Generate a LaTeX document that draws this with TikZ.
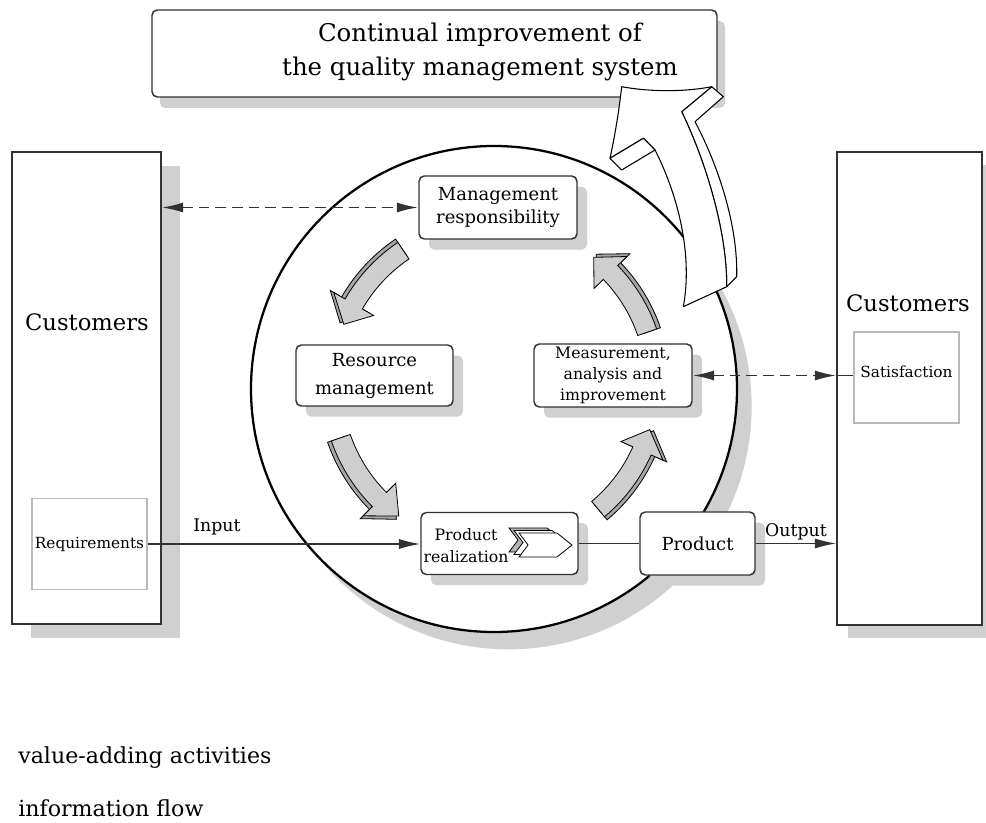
\documentclass[tikz,border=0pt]{standalone}
\usepackage{fontspec}
\setmainfont{DejaVu Serif}
\usetikzlibrary{arrows.meta,shadows,calc}
\definecolor{shd}{RGB}{207,208,207}
\definecolor{edgec}{RGB}{50,50,50}
\definecolor{lightedge}{RGB}{185,185,185}
\definecolor{arrface}{RGB}{206,206,206}
\definecolor{arrside}{RGB}{165,165,165}
\newcommand\ArcArr[4]{%
  \begin{scope}[shift={(494,385)},y=0.75pt]
    \filldraw[fill=arrside,draw=black,line width=0.6pt]
      plot[domain=#1:#2,samples=16] (\x:{#4+14}) -- (#2:{#4+27}) -- (#3:{#4+4}) -- (#2:{#4-19}) -- plot[domain=#2:#1,samples=16] (\x:{#4-6}) -- cycle;
    \filldraw[fill=arrface,draw=black,line width=0.6pt]
      plot[domain=#1:#2,samples=16] (\x:{#4+10}) -- (#2:{#4+23}) -- (#3:{#4}) -- (#2:{#4-23}) -- plot[domain=#2:#1,samples=16] (\x:{#4-10}) -- cycle;
  \end{scope}}
\begin{document}
\begin{tikzpicture}[x=0.75pt,y=-0.75pt,
  cbox/.style={draw=edgec,line width=1.1pt,fill=white,inner sep=0pt},
  rbox/.style={cbox,rounded corners=4pt,align=center,drop shadow={opacity=1,fill=shd,shadow xshift=7.5pt,shadow yshift=-8pt}},
  ibox/.style={draw=lightedge,line width=1pt,fill=white,inner sep=0pt},
  tip/.style={-{Latex[length=16pt,width=7.5pt]}},
  dash2/.style={dash pattern=on 8pt off 4.5pt,line width=1.4pt,{Latex[length=16pt,width=7.5pt]}-{Latex[length=16pt,width=7.5pt]}},
  bigarr/.style={fill=white,draw=black,line width=0.8pt,line join=round}]
\useasboundingbox (0,0) rectangle (986,823);
\clip (0,0) rectangle (986,823);
\fill[white] (0,0) rectangle (986,823);

% customers (left)
\node[cbox,minimum width=111.75pt,minimum height=354pt,drop shadow={opacity=1,fill=shd,shadow xshift=14pt,shadow yshift=-10.5pt}] (custL) at (86.5,388) {};
\node[font=\fontsize{17}{20}\selectfont] (custLt) at (87,322) {Customers};
\node[ibox,minimum width=86.25pt,minimum height=68.25pt,font=\fontsize{11.5}{13}\selectfont] (req) at (89.5,544) {Requirements};

% customers (right)
\node[cbox,minimum width=108.75pt,minimum height=354.75pt,drop shadow={opacity=1,fill=shd,shadow xshift=8pt,shadow yshift=-10pt}] (custR) at (909.5,388.5) {};
\node[font=\fontsize{17}{20}\selectfont] (custRt) at (908,303) {Customers};
\node[ibox,minimum width=78.75pt,minimum height=68.25pt] (sat) at (906.5,377.5) {};
\node[font=\fontsize{11.5}{13}\selectfont] (satt) at (906.5,372) {Satisfaction};

% top box
\node[cbox,rounded corners=4pt,minimum width=423.75pt,minimum height=65.25pt,drop shadow={opacity=1,fill=shd,shadow xshift=6pt,shadow yshift=-8.25pt}] (topbox) at (434.5,53.5) {};
\node[font=\fontsize{18.3}{25}\selectfont,align=center] (title) at (480,52) {Continual improvement of\\the quality management system};

% circle
\node[circle,draw=black,line width=1.7pt,fill=white,minimum size=364.5pt,inner sep=0pt,drop shadow={opacity=1,fill=shd,shadow xshift=11pt,shadow yshift=-13pt}] (circ) at (494,389) {};

% big improvement arrow
\filldraw[bigarr] (711.7,86.7) -- (723.3,96.7) -- (695,121.7) .. controls (718,165) and (738,225) .. (736.7,276.7) -- (726.7,286.7) .. controls (727,230) and (705,160) .. (681.7,111.7) -- cycle;
\filldraw[bigarr] (621.7,86.7) .. controls (650,92) and (685,92) .. (711.7,86.7) -- (681.7,111.7) .. controls (705,160) and (727,230) .. (726.7,286.7) -- (683.3,306.7) .. controls (693,255) and (678,195) .. (655,150) -- (643.3,138.3) -- (610,158.3) .. controls (616,130) and (619,110) .. (621.7,86.7) -- cycle;
\filldraw[bigarr] (610,158.3) -- (621.7,170) -- (655,150) -- (643.3,138.3) -- cycle;

% process boxes
\node[rbox,minimum width=118.5pt,minimum height=47.25pt,font=\fontsize{13.5}{17}\selectfont] (mgmt) at (498,207.5) {Management\\responsibility};
\node[rbox,minimum width=117.75pt,minimum height=45.75pt,font=\fontsize{13.5}{21}\selectfont] (res) at (374.5,375.5) {Resource\\management};
\node[rbox,minimum width=118.5pt,minimum height=47.25pt,font=\fontsize{11.8}{15.5}\selectfont] (meas) at (613,375.5) {Measurement,\\analysis and\\improvement};
\node[rbox,minimum width=117.75pt,minimum height=46.5pt] (pr) at (499.5,543.5) {};
\node[rbox,minimum width=86.25pt,minimum height=47.25pt,font=\fontsize{13.5}{16}\selectfont] (prod) at (697.5,543.5) {Product};

% chevron icon
\foreach \dx/\dy/\cc in {-10/-5/gray!60, -5/-2.5/white, 0/0/white}{
  \begin{scope}[shift={(519+\dx,533+\dy)}]
    \filldraw[fill=\cc,draw=black,line width=0.6pt] (0,0) -- (38,0) -- (53,12) -- (38,24) -- (0,24) -- (9,12) -- cycle;
  \end{scope}}
\node[font=\fontsize{11.8}{16.5}\selectfont,align=center,inner sep=0pt] (prt) at (466,546) {Product\\realization};

% cycle arrows
\ArcArr{124}{150}{158}{162}
\ArcArr{199}{225}{234}{162}
\ArcArr{310}{336}{344}{162}
\ArcArr{19}{44}{52}{162}

% connectors
\draw[tip,line width=1pt,draw=edgec] (req.east) -- (req.east -| pr.west);
\node[font=\fontsize{13}{15}\selectfont,anchor=base] (inlab) at (217,532) {Input};
\draw[line width=1pt,draw=edgec] (pr.east) -- (prod.west);
\draw[tip,line width=1pt,draw=edgec] (prod.east) -- (prod.east -| custR.west);
\node[font=\fontsize{13}{15}\selectfont,anchor=base] (outlab) at (796,537) {Output};
\draw[dash2,draw=edgec] (mgmt.west -| custL.east) -- (mgmt.west);
\draw[dash2,draw=edgec] (meas.east) -- (meas.east -| custR.west);
\draw[line width=1pt,draw=edgec] (meas.east -| custR.west) -- (meas.east -| sat.west);

% legend
\node[anchor=west,font=\fontsize{16.6}{18}\selectfont,inner sep=0pt] (lg1) at (18,758) {value-adding activities};
\node[anchor=west,font=\fontsize{16.6}{18}\selectfont,inner sep=0pt] (lg2) at (18,808) {information flow};
\end{tikzpicture}
\end{document}
